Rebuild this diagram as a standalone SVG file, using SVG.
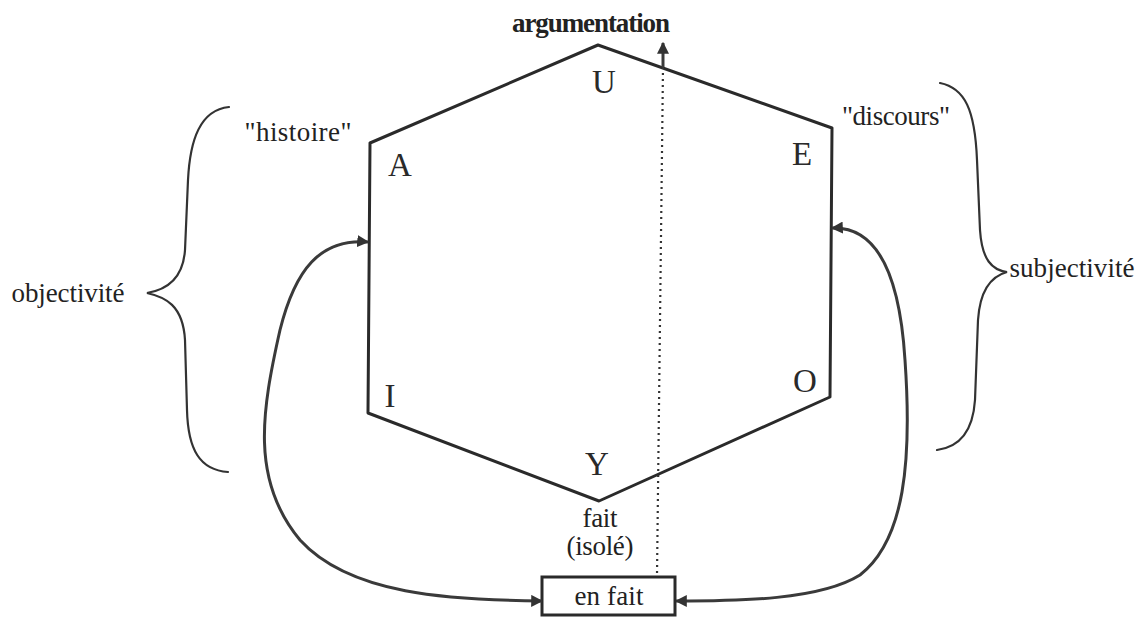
<svg xmlns="http://www.w3.org/2000/svg" width="1139" height="618" viewBox="0 0 1139 618">
<style>
.ln{fill:none;stroke:#2a2a2a;stroke-width:3;stroke-linejoin:round;stroke-linecap:round}
.th{fill:none;stroke:#333;stroke-width:2.2;stroke-linecap:round}
.ar{fill:none;stroke:#3a3a3a;stroke-width:3}
.dot{fill:none;stroke:#333;stroke-width:2.2;stroke-dasharray:2 4}
.w{font-family:"Liberation Serif","Times New Roman",serif;font-size:27px;fill:#222;text-anchor:middle}
.L{font-family:"Liberation Serif","Times New Roman",serif;font-size:33px;fill:#2a2a2a;text-anchor:middle}
</style>
<defs>
<marker id="ah" viewBox="0 0 10 10" refX="9" refY="5" markerWidth="4" markerHeight="4" orient="auto-start-reverse" markerUnits="strokeWidth">
<path d="M0,0 L10,5 L0,10 z" fill="#333"/>
</marker>
</defs>
<rect width="1139" height="618" fill="#fff"/>
<g id="hexagon">
<polygon class="ln" points="598,45 832,128 830,397 599,501 368,413 370,143"/>
</g>
<g id="vowels">
<text class="L" x="604" y="93">U</text>
<text class="L" x="400" y="176">A</text>
<text class="L" x="802" y="165">E</text>
<text class="L" x="390" y="407">I</text>
<text class="L" x="805" y="392">O</text>
<text class="L" x="597" y="475">Y</text>
</g>
<g id="labels">
<text class="w" x="591" y="32" font-size="24" font-weight="bold" textLength="158">argumentation</text>
<text class="w" x="298" y="141" textLength="107">"histoire"</text>
<text class="w" x="896" y="125" textLength="108">"discours"</text>
<text class="w" x="68" y="302" textLength="113">objectivité</text>
<text class="w" x="1072" y="277" textLength="125">subjectivité</text>
<text class="w" x="600" y="527" textLength="35">fait</text>
<text class="w" x="600" y="555" textLength="67">(isolé)</text>
</g>
<g id="braces">
<path class="th" d="M229,107 C200,110 190,140 188,180 L185,250 C183,280 165,290 147,293 C165,297 183,305 185,340 L187,410 C188,450 200,470 228,472"/>
<path class="th" d="M940,83 C965,88 975,110 977,160 L980,230 C982,260 992,270 1007,272 C992,276 980,290 978,320 L975,400 C973,430 960,447 937,450"/>
</g>
<g id="en-fait">
<rect x="542" y="577" width="133" height="38" fill="#fff" stroke="#2a2a2a" stroke-width="3"/>
<text class="w" x="609" y="605" textLength="69">en fait</text>
</g>
<g id="connectors">
<path class="ar" d="M368,242 C320,238 295,270 280,330 C262,410 250,480 300,540 C350,595 450,600 542,601" marker-start="url(#ah)" marker-end="url(#ah)"/>
<path class="ar" d="M832,228 C880,226 900,280 905,360 C912,460 905,540 860,575 C820,600 740,601 676,601" marker-start="url(#ah)" marker-end="url(#ah)"/>
<path class="dot" d="M663,67 L657,575"/>
<path class="ar" d="M663,67 L663,43" stroke-width="2.2" marker-end="url(#ah)"/>
</g>
</svg>
